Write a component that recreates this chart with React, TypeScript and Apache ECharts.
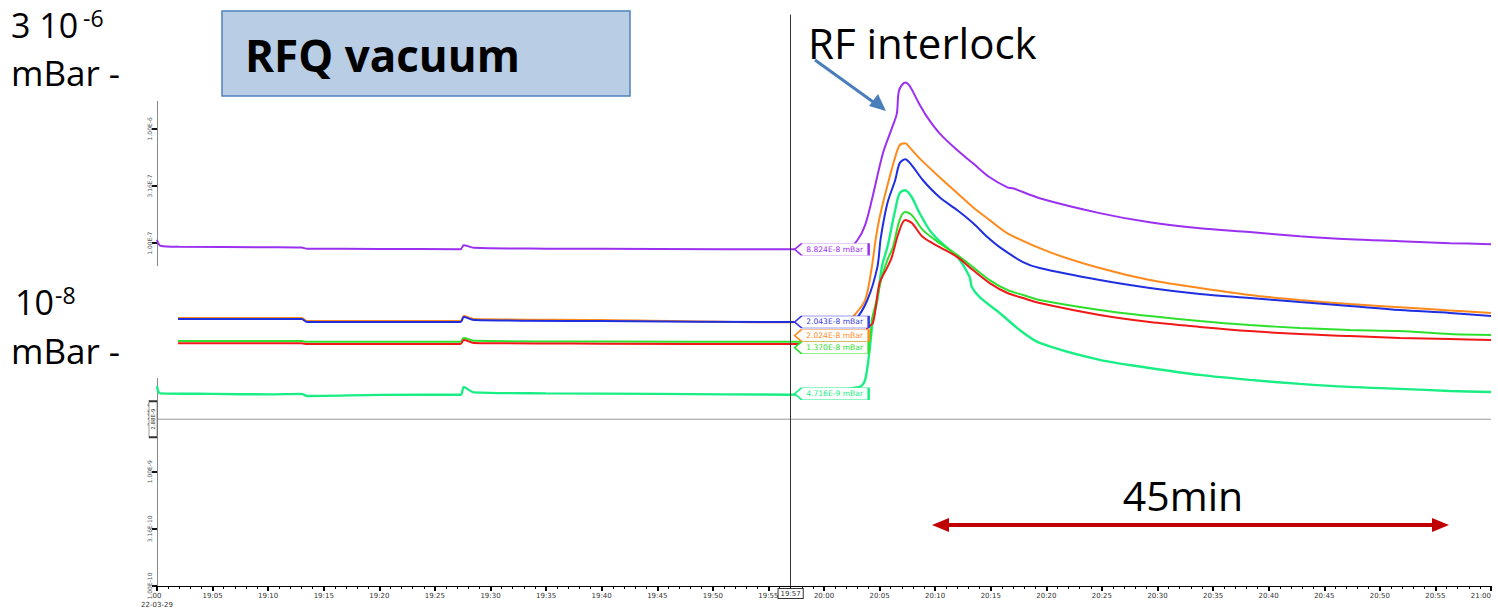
import React, { useEffect, useRef } from 'react';
import * as echarts from 'echarts';

// minutes after 19:00 on 2022-03-29, values in mBar
const purpleT = [0, 0.3, 2, 10, 13, 13.5, 20, 27.3, 27.6, 28.5, 35, 45, 57, 60, 62.2, 63.0, 63.7, 64.3, 65.3, 66.1, 66.55, 66.75, 67.3, 67.7, 68.5, 69.3, 70.4, 72.0, 73.4, 74.9, 76.5, 77.0, 79.4, 84.8, 89.3, 93.8, 98.3, 102.8, 107.3, 111.8, 116.3, 120];
const purpleV = [1.07e-7, 9.5e-8, 9.3e-8, 9.2e-8, 9.15e-8, 8.95e-8, 8.9e-8, 8.85e-8, 9.6e-8, 9.1e-8, 8.95e-8, 8.9e-8, 8.82e-8, 8.85e-8, 9.1e-8, 1.06e-7, 1.44e-7, 2.38e-7, 6.11e-7, 1.01e-6, 1.36e-6, 2.17e-6, 2.55e-6, 2.38e-6, 1.70e-6, 1.26e-6, 9.14e-7, 6.49e-7, 5.0e-7, 3.77e-7, 3.08e-7, 3.02e-7, 2.47e-7, 1.83e-7, 1.52e-7, 1.35e-7, 1.25e-7, 1.15e-7, 1.08e-7, 1.04e-7, 1.0e-7, 9.8e-8];

const orangeT = [0, 13, 13.5, 27.3, 27.6, 28.5, 40, 57, 62.0, 62.6, 63.7, 64.3, 64.6, 64.9, 65.3, 65.9, 66.4, 66.8, 67.3, 67.7, 68.6, 70.4, 72.0, 73.4, 74.9, 76.5, 80.3, 84.8, 89.3, 93.8, 98.3, 102.8, 107.3, 111.8, 116.3, 120];
const orangeV = [2.21e-8, 2.21e-8, 2.08e-8, 2.08e-8, 2.30e-8, 2.17e-8, 2.13e-8, 2.03e-8, 2.04e-8, 2.26e-8, 3.18e-8, 6.17e-8, 1.0e-7, 1.5e-7, 2.23e-7, 3.77e-7, 5.64e-7, 7.18e-7, 7.47e-7, 6.89e-7, 5.52e-7, 3.77e-7, 2.73e-7, 2.06e-7, 1.59e-7, 1.22e-7, 8.34e-8, 6.05e-8, 4.75e-8, 4.05e-8, 3.52e-8, 3.18e-8, 2.93e-8, 2.75e-8, 2.58e-8, 2.45e-8];

const blueT = [0, 13, 13.5, 27.3, 27.6, 28.5, 40, 57, 62.0, 62.8, 63.9, 64.8, 65.1, 65.7, 66.4, 66.8, 67.3, 67.9, 68.9, 70.4, 72.0, 73.4, 74.7, 75.8, 77.9, 79.4, 84.8, 89.3, 93.8, 98.3, 102.8, 107.3, 111.8, 116.3, 120];
const blueV = [2.17e-8, 2.17e-8, 2.04e-8, 2.04e-8, 2.26e-8, 2.13e-8, 2.08e-8, 2.04e-8, 2.04e-8, 2.13e-8, 3.18e-8, 6.17e-8, 1.1e-7, 2.23e-7, 3.55e-7, 5.0e-7, 5.42e-7, 4.8e-7, 3.55e-7, 2.52e-7, 1.94e-7, 1.5e-7, 1.13e-7, 9.23e-8, 6.82e-8, 6.05e-8, 4.75e-8, 4.05e-8, 3.59e-8, 3.31e-8, 3.05e-8, 2.82e-8, 2.6e-8, 2.45e-8, 2.3e-8];

const redT = [0, 13, 13.5, 27.3, 27.6, 28.5, 40, 57, 63.5, 63.9, 64.4, 65.0, 65.7, 66.1, 66.7, 67.3, 67.9, 68.9, 70.4, 72.0, 73.4, 74.9, 76.5, 77.9, 79.4, 84.8, 89.3, 93.8, 98.3, 102.8, 107.3, 111.8, 116.3, 120];
const redV = [1.33e-8, 1.33e-8, 1.31e-8, 1.31e-8, 1.42e-8, 1.34e-8, 1.32e-8, 1.31e-8, 1.31e-8, 1.81e-8, 2.0e-8, 4.47e-8, 6.17e-8, 7.55e-8, 1.22e-7, 1.59e-7, 1.5e-7, 1.13e-7, 9.23e-8, 7.55e-8, 5.81e-8, 4.47e-8, 3.66e-8, 3.31e-8, 2.99e-8, 2.35e-8, 2.04e-8, 1.85e-8, 1.7e-8, 1.6e-8, 1.54e-8, 1.48e-8, 1.45e-8, 1.42e-8];

const greenT = [0, 13, 13.5, 27.3, 27.6, 28.5, 40, 57, 64.0, 64.3, 64.8, 65.2, 65.7, 66.2, 66.8, 67.3, 67.9, 68.9, 70.4, 72.0, 73.4, 74.9, 76.5, 77.9, 79.4, 84.8, 89.3, 93.8, 98.3, 102.8, 107.3, 111.8, 116.3, 120];
const greenV = [1.39e-8, 1.39e-8, 1.37e-8, 1.37e-8, 1.48e-8, 1.4e-8, 1.38e-8, 1.37e-8, 1.37e-8, 2.13e-8, 3.37e-8, 5.05e-8, 7.11e-8, 9.23e-8, 1.59e-7, 1.87e-7, 1.76e-7, 1.3e-7, 1.0e-7, 7.85e-8, 6.17e-8, 4.75e-8, 3.89e-8, 3.52e-8, 3.18e-8, 2.6e-8, 2.3e-8, 2.08e-8, 1.92e-8, 1.81e-8, 1.74e-8, 1.7e-8, 1.6e-8, 1.57e-8];

const springT = [0, 0.3, 5, 10, 13, 13.5, 20, 27.3, 27.6, 28.5, 35, 45, 57, 63.2, 63.7, 64.1, 64.4, 64.8, 65.2, 65.7, 65.9, 66.4, 66.8, 67.3, 67.9, 68.6, 69.5, 70.4, 72.0, 73.1, 73.3, 74.0, 75.8, 77.6, 79.4, 84.8, 89.3, 93.8, 98.3, 102.8, 107.3, 111.8, 116.3, 120];
const springV = [5.6e-9, 4.85e-9, 4.8e-9, 4.75e-9, 4.8e-9, 4.6e-9, 4.7e-9, 4.72e-9, 5.5e-9, 4.95e-9, 4.85e-9, 4.8e-9, 4.72e-9, 5.52e-9, 6.36e-9, 1.16e-8, 2.13e-8, 3.18e-8, 6.17e-8, 9.23e-8, 1.13e-7, 1.94e-7, 2.73e-7, 2.9e-7, 2.52e-7, 1.83e-7, 1.3e-7, 1.04e-7, 7.55e-8, 5.05e-8, 4.13e-8, 3.37e-8, 2.45e-8, 1.74e-8, 1.34e-8, 9.51e-9, 8.09e-9, 7.03e-9, 6.36e-9, 5.87e-9, 5.52e-9, 5.31e-9, 5.09e-9, 4.98e-9];

// cursor readings at 19:57
const cursorMin = 57;
const cursorLevel = 2.88e-9;
const cursorSpanT = [0, 120];
const purpleLabel = 8.824e-8;
const blueLabel = 2.043e-8;
const orangeLabel = 2.024e-8;
const greenLabel = 1.370e-8;
const springLabel = 4.716e-9;

const FONT = '"Open Sans", "Noto Sans", sans-serif';
const SMALL = '"DejaVu Sans", sans-serif';

function fmtTime(m: number) {
  const h = 19 + Math.floor(m / 60);
  const mm = Math.round(m % 60);
  return `${h}:${String(mm).padStart(2, '0')}`;
}

function zip(t: number[], v: number[]) {
  return t.map((x, i) => [x, v[i]]);
}

function flag(color: string, value: number, dy: number) {
  return {
    symbol: 'path://M0,6L7,0L74,0L74,12L7,12Z',
    symbolSize: [74, 12],
    symbolKeepAspect: false,
    symbolOffset: [41, dy],
    silent: true,
    z: 20,
    itemStyle: { color: '#fff', borderColor: color, borderWidth: 1 },
    label: {
      show: true,
      position: 'inside',
      formatter: value.toExponential(3).toUpperCase() + ' mBar',
      color,
      fontSize: 7.6,
      fontFamily: SMALL,
      offset: [3, 0],
    },
    data: [{ coord: [cursorMin, value] }],
  };
}

function line(name: string, color: string, data: number[][], width: number, mark?: any) {
  return {
    type: 'line',
    name,
    data,
    showSymbol: false,
    symbol: 'none',
    smooth: 0.3,
    clip: false,
    lineStyle: { color, width },
    itemStyle: { color },
    z: 3,
    markPoint: mark,
  };
}

function label(text: string, x: number, y: number, size: number, extra: any = {}) {
  return {
    type: 'text', z: 102, x, y,
    style: { text, fontSize: size, lineHeight: size, fontFamily: FONT, fill: '#000', verticalAlign: 'middle', ...extra },
  };
}

export default function App() {
  const ref = useRef<HTMLDivElement>(null);
  useEffect(() => {
    const chart = echarts.init(ref.current!, null, { renderer: 'svg' });
    const spring = line('spring', '#19ee84', zip(springT, springV), 2.4, flag('#19ee84', springLabel, -1)) as any;
    spring.markLine = {
      symbol: 'none',
      silent: true,
      data: [
        {
          xAxis: cursorMin,
          lineStyle: { color: '#333', width: 1, type: 'solid' },
          label: {
            show: true, position: 'start', formatter: fmtTime(cursorMin), color: '#333', fontSize: 7,
            fontFamily: SMALL, backgroundColor: '#fff', borderColor: '#333', borderWidth: 1, padding: [1, 2], distance: 3,
          },
        },
      ],
    };
    const levelSeries = {
      type: 'line',
      name: 'cursor level',
      data: cursorSpanT.map((t) => [t, cursorLevel]),
      showSymbol: false,
      symbol: 'none',
      clip: false,
      lineStyle: { color: '#9a9a9a', width: 1 },
      z: 1,
      markPoint: {
        symbol: 'rect',
        symbolSize: [8, 36],
        symbolOffset: [-4, 0],
        silent: true,
        itemStyle: { color: '#fff', borderColor: '#333', borderWidth: 1 },
        label: {
          show: true, position: 'inside', rotate: 90, fontSize: 5.5, color: '#333', fontFamily: SMALL,
          formatter: cursorLevel.toExponential(2).toUpperCase(),
        },
        data: [{ coord: [0, cursorLevel] }],
      },
    };
    const option: any = {
      animation: false,
      backgroundColor: '#fff',
      grid: { left: 157, right: 7, top: 14, bottom: 22 },
      xAxis: {
        type: 'value', min: 0, max: 120, interval: 5,
        axisLine: { show: true, onZero: false, lineStyle: { color: '#000', width: 1 } },
        axisTick: { show: true, length: 5, lineStyle: { color: '#000', width: 2 } },
        minorTick: { show: true, splitNumber: 5, length: 3, lineStyle: { color: '#000', width: 1 } },
        splitLine: { show: false },
        axisLabel: {
          formatter: (m: number) => (m === 0 ? '00\n22-03-29' : fmtTime(m)),
          fontSize: 7, color: '#333', margin: 5, fontFamily: SMALL, lineHeight: 9, alignMaxLabel: 'right',
        },
      },
      yAxis: {
        type: 'log', logBase: 10, min: 1e-10, max: 1e-5, interval: 0.5,
        axisLine: { show: true, lineStyle: { color: '#888', width: 1 } },
        axisTick: { show: true, length: 5, lineStyle: { color: '#111', width: 2 } },
        splitLine: { show: false },
        axisLabel: {
          rotate: 90, fontSize: 6, color: '#555', fontFamily: SMALL, margin: 5,
          formatter: (v: number) => v.toExponential(2).toUpperCase(),
        },
      },
      series: [
        levelSeries,
        spring,
        line('green', '#2ee02e', zip(greenT, greenV), 2, flag('#2ee02e', greenLabel, 6)),
        line('red', '#f01818', zip(redT, redV), 2),
        line('orange', '#ff8a1c', zip(orangeT, orangeV), 2, flag('#ff8a1c', orangeLabel, 13)),
        line('blue', '#1f2fe0', zip(blueT, blueV), 2, flag('#3a3ae8', blueLabel, 0)),
        line('purple', '#9b30f0', zip(purpleT, purpleV), 2, flag('#9b30f0', purpleLabel, 0)),
      ],
      graphic: [
        { type: 'rect', z: 100, shape: { x: 122, y: 0, width: 42, height: 101 }, style: { fill: '#fff' } },
        { type: 'rect', z: 100, shape: { x: 0, y: 266, width: 178, height: 112 }, style: { fill: '#fff' } },
        { type: 'rect', z: 101, shape: { x: 222, y: 11, width: 408, height: 85 }, style: { fill: '#b9cde5', stroke: '#4f81bd', lineWidth: 1.5 } },
        label('RFQ vacuum', 245, 55, 44, { fontWeight: 'bold' }),
        label('3 10', 11, 25, 34),
        label('-6', 83, 18, 23),
        label('mBar -', 11, 72, 35),
        label('10', 15, 302, 34),
        label('-8', 55, 295, 23),
        label('mBar -', 11, 350, 35),
        label('RF interlock', 808, 42, 42),
        { type: 'line', z: 102, shape: { x1: 815, y1: 60, x2: 876, y2: 104 }, style: { stroke: '#4a7ebb', lineWidth: 3 } },
        { type: 'polygon', z: 102, shape: { points: [[886, 111], [869, 106], [878, 94]] }, style: { fill: '#4a7ebb' } },
        label('45min', 1183, 495, 41, { align: 'center' }),
        { type: 'line', z: 102, shape: { x1: 945, y1: 525, x2: 1436, y2: 525 }, style: { stroke: '#c00000', lineWidth: 4 } },
        { type: 'polygon', z: 102, shape: { points: [[932, 525], [949, 518], [949, 532]] }, style: { fill: '#c00000' } },
        { type: 'polygon', z: 102, shape: { points: [[1449, 525], [1432, 518], [1432, 532]] }, style: { fill: '#c00000' } },
      ],
    };
    chart.setOption(option);
    return () => chart.dispose();
  }, []);
  return <div ref={ref} style={{ position: 'fixed', left: 0, top: 0, width: 1498, height: 609, background: '#fff' }} />;
}
